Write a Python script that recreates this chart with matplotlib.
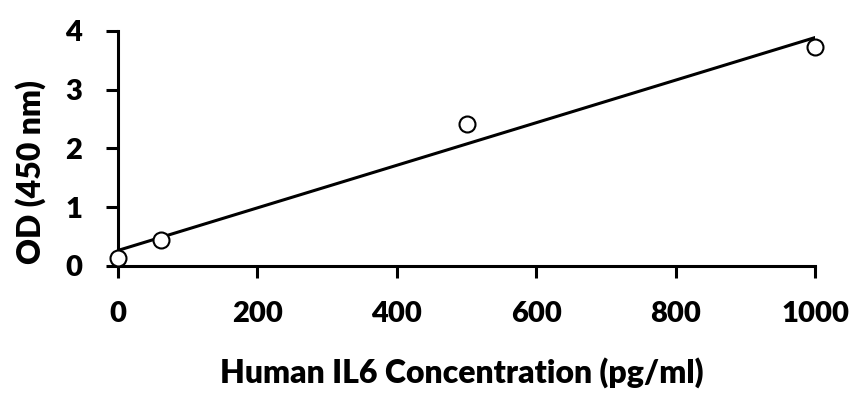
import numpy as np
import matplotlib.pyplot as plt

# Standardkurve Human IL6
conc = np.array([0, 62.5, 500, 1000])
od = np.array([0.13, 0.45, 2.42, 3.72])

x_ticks = [0, 200, 400, 600, 800, 1000]
y_ticks = [0, 1, 2, 3, 4]

plt.rcParams['font.family'] = ['Lato', 'DejaVu Sans']

W = "heavy"

fig = plt.figure(figsize=(8.6, 3.97), dpi=100)
ax = fig.add_axes([0.137, 0.330, 0.811, 0.592])

# lineare Trendlinie
slope, intercept = np.polyfit(conc, od, 1)
xs = np.array([0, 1000])
ax.plot(xs, slope * xs + intercept, color="black", lw=2.2, zorder=2)

ax.plot(conc, od, "o", ms=11.5, mfc="white", mec="black", mew=1.5,
        clip_on=False, zorder=3)

ax.set_xlim(0, 1000)
ax.set_ylim(0, 4)
ax.set_xticks(x_ticks)
ax.set_yticks(y_ticks)

for side in ["top", "right"]:
    ax.spines[side].set_visible(False)
for side in ["left", "bottom"]:
    ax.spines[side].set_linewidth(2.2)

ax.tick_params(direction="out", length=8.5, width=2.2, labelsize=21, pad=17)
for lab in ax.get_xticklabels() + ax.get_yticklabels():
    lab.set_fontweight(W)

ax.set_xlabel("Human IL6 Concentration (pg/ml)", fontsize=23, fontweight=W, va="baseline")
ax.xaxis.set_label_coords(0.4935, -0.498)
ax.set_ylabel("OD (450 nm)", fontsize=23, fontweight=W, va="center", ha="center")
ax.yaxis.set_label_coords(-0.1248, 0.40)

fig.savefig("out.png", dpi=100)
